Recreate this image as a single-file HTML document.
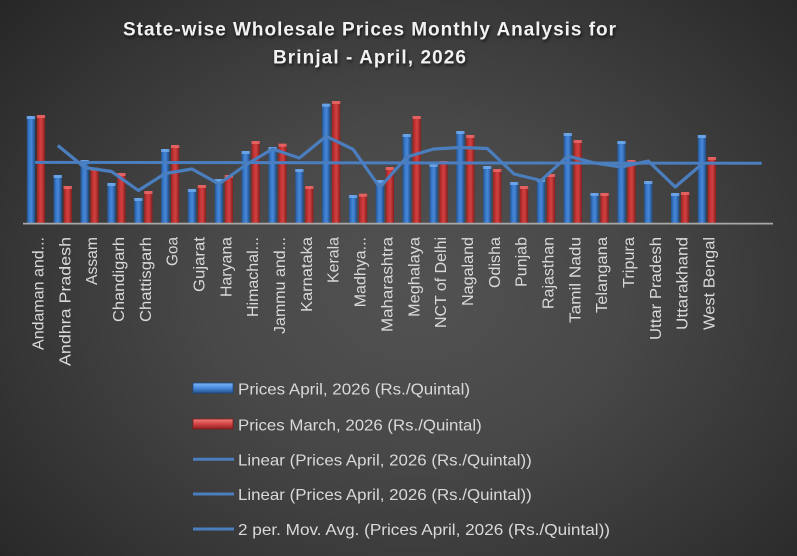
<!DOCTYPE html>
<html><head><meta charset="utf-8"><style>
html,body{margin:0;padding:0;}
body{width:797px;height:556px;overflow:hidden;}
#c{width:797px;height:556px;background:radial-gradient(ellipse 75% 85% at 52% 52%,#525252 0%,#484848 35%,#343434 70%,#222222 100%);}
svg{display:block;font-family:"Liberation Sans",sans-serif;}
.t{fill:#f2f2f2;font-weight:bold;font-size:19px;filter:drop-shadow(1px 2px 1.5px rgba(0,0,0,.65));}
.l{fill:#d9d9d9;font-size:16px;}
.g{fill:#d9d9d9;font-size:16px;}
</style></head><body><div id="c">
<svg width="797" height="556" viewBox="0 0 797 556" xmlns="http://www.w3.org/2000/svg">
<defs>
<linearGradient id="gb" x1="0" x2="1" y1="0" y2="0">
<stop offset="0" stop-color="#24548f"/><stop offset=".3" stop-color="#3a7acb"/><stop offset=".55" stop-color="#4687d9"/><stop offset="1" stop-color="#214c86"/>
</linearGradient>
<linearGradient id="gr" x1="0" x2="1" y1="0" y2="0">
<stop offset="0" stop-color="#962424"/><stop offset=".3" stop-color="#c53535"/><stop offset=".55" stop-color="#d24040"/><stop offset="1" stop-color="#861e1e"/>
</linearGradient>
<linearGradient id="lb" x1="0" x2="0" y1="0" y2="1">
<stop offset="0" stop-color="#7fb6f5"/><stop offset=".5" stop-color="#4a8ade"/><stop offset="1" stop-color="#23538f"/>
</linearGradient>
<linearGradient id="lr" x1="0" x2="0" y1="0" y2="1">
<stop offset="0" stop-color="#f08080"/><stop offset=".5" stop-color="#d44444"/><stop offset="1" stop-color="#8c2020"/>
</linearGradient>
</defs>

<!-- Title -->
<text class="t" x="123" y="35.5" textLength="493" lengthAdjust="spacing">State-wise Wholesale Prices Monthly Analysis for</text>
<text class="t" x="273" y="63.3" textLength="193" lengthAdjust="spacing">Brinjal - April, 2026</text>

<!-- Blue bars -->
<g fill="url(#gb)">
<rect x="26.8" y="116" width="8.3" height="107"/>
<rect x="53.6" y="175" width="8.3" height="48"/>
<rect x="80.5" y="160" width="8.3" height="63"/>
<rect x="107.3" y="183" width="8.3" height="40"/>
<rect x="134.2" y="198" width="8.3" height="25"/>
<rect x="161.0" y="149" width="8.3" height="74"/>
<rect x="187.8" y="189" width="8.3" height="34"/>
<rect x="214.7" y="179" width="8.3" height="44"/>
<rect x="241.5" y="151" width="8.3" height="72"/>
<rect x="268.4" y="147" width="8.3" height="76"/>
<rect x="295.2" y="169" width="8.3" height="54"/>
<rect x="322.0" y="103.7" width="8.3" height="119.3"/>
<rect x="348.9" y="195" width="8.3" height="28"/>
<rect x="375.7" y="180" width="8.3" height="43"/>
<rect x="402.6" y="134" width="8.3" height="89"/>
<rect x="429.4" y="164" width="8.3" height="59"/>
<rect x="456.2" y="131" width="8.3" height="92"/>
<rect x="483.1" y="166" width="8.3" height="57"/>
<rect x="509.9" y="182" width="8.3" height="41"/>
<rect x="536.8" y="179" width="8.3" height="44"/>
<rect x="563.6" y="133" width="8.3" height="90"/>
<rect x="590.4" y="193" width="8.3" height="30"/>
<rect x="617.3" y="141" width="8.3" height="82"/>
<rect x="644.1" y="181" width="8.3" height="42"/>
<rect x="671.0" y="193" width="8.3" height="30"/>
<rect x="697.8" y="135" width="8.3" height="88"/>
</g>
<g fill="#78b0f2" opacity=".75">
<rect x="26.8" y="116" width="8.3" height="3"/>
<rect x="53.6" y="175" width="8.3" height="3"/>
<rect x="80.5" y="160" width="8.3" height="3"/>
<rect x="107.3" y="183" width="8.3" height="3"/>
<rect x="134.2" y="198" width="8.3" height="3"/>
<rect x="161.0" y="149" width="8.3" height="3"/>
<rect x="187.8" y="189" width="8.3" height="3"/>
<rect x="214.7" y="179" width="8.3" height="3"/>
<rect x="241.5" y="151" width="8.3" height="3"/>
<rect x="268.4" y="147" width="8.3" height="3"/>
<rect x="295.2" y="169" width="8.3" height="3"/>
<rect x="322.0" y="103.7" width="8.3" height="3"/>
<rect x="348.9" y="195" width="8.3" height="3"/>
<rect x="375.7" y="180" width="8.3" height="3"/>
<rect x="402.6" y="134" width="8.3" height="3"/>
<rect x="429.4" y="164" width="8.3" height="3"/>
<rect x="456.2" y="131" width="8.3" height="3"/>
<rect x="483.1" y="166" width="8.3" height="3"/>
<rect x="509.9" y="182" width="8.3" height="3"/>
<rect x="536.8" y="179" width="8.3" height="3"/>
<rect x="563.6" y="133" width="8.3" height="3"/>
<rect x="590.4" y="193" width="8.3" height="3"/>
<rect x="617.3" y="141" width="8.3" height="3"/>
<rect x="644.1" y="181" width="8.3" height="3"/>
<rect x="671.0" y="193" width="8.3" height="3"/>
<rect x="697.8" y="135" width="8.3" height="3"/>
</g>

<!-- Red bars -->
<g fill="url(#gr)">
<rect x="36.8" y="115" width="8.3" height="108"/>
<rect x="63.6" y="186" width="8.3" height="37"/>
<rect x="90.5" y="167.7" width="8.3" height="55.3"/>
<rect x="117.3" y="173" width="8.3" height="50"/>
<rect x="144.2" y="191" width="8.3" height="32"/>
<rect x="171.0" y="145" width="8.3" height="78"/>
<rect x="197.8" y="185" width="8.3" height="38"/>
<rect x="224.7" y="175" width="8.3" height="48"/>
<rect x="251.5" y="141" width="8.3" height="82"/>
<rect x="278.4" y="143.7" width="8.3" height="79.3"/>
<rect x="305.2" y="186" width="8.3" height="37"/>
<rect x="332.0" y="101" width="8.3" height="122"/>
<rect x="358.9" y="193.7" width="8.3" height="29.3"/>
<rect x="385.7" y="167" width="8.3" height="56"/>
<rect x="412.6" y="116" width="8.3" height="107"/>
<rect x="439.4" y="161" width="8.3" height="62"/>
<rect x="466.2" y="135" width="8.3" height="88"/>
<rect x="493.1" y="169" width="8.3" height="54"/>
<rect x="519.9" y="186" width="8.3" height="37"/>
<rect x="546.8" y="174" width="8.3" height="49"/>
<rect x="573.6" y="140" width="8.3" height="83"/>
<rect x="600.4" y="193" width="8.3" height="30"/>
<rect x="627.3" y="160" width="8.3" height="63"/>
<rect x="681.0" y="192" width="8.3" height="31"/>
<rect x="707.8" y="157" width="8.3" height="66"/>
</g>
<g fill="#ee7070" opacity=".75">
<rect x="36.8" y="115" width="8.3" height="3"/>
<rect x="63.6" y="186" width="8.3" height="3"/>
<rect x="90.5" y="167.7" width="8.3" height="3"/>
<rect x="117.3" y="173" width="8.3" height="3"/>
<rect x="144.2" y="191" width="8.3" height="3"/>
<rect x="171.0" y="145" width="8.3" height="3"/>
<rect x="197.8" y="185" width="8.3" height="3"/>
<rect x="224.7" y="175" width="8.3" height="3"/>
<rect x="251.5" y="141" width="8.3" height="3"/>
<rect x="278.4" y="143.7" width="8.3" height="3"/>
<rect x="305.2" y="186" width="8.3" height="3"/>
<rect x="332.0" y="101" width="8.3" height="3"/>
<rect x="358.9" y="193.7" width="8.3" height="3"/>
<rect x="385.7" y="167" width="8.3" height="3"/>
<rect x="412.6" y="116" width="8.3" height="3"/>
<rect x="439.4" y="161" width="8.3" height="3"/>
<rect x="466.2" y="135" width="8.3" height="3"/>
<rect x="493.1" y="169" width="8.3" height="3"/>
<rect x="519.9" y="186" width="8.3" height="3"/>
<rect x="546.8" y="174" width="8.3" height="3"/>
<rect x="573.6" y="140" width="8.3" height="3"/>
<rect x="600.4" y="193" width="8.3" height="3"/>
<rect x="627.3" y="160" width="8.3" height="3"/>
<rect x="681.0" y="192" width="8.3" height="3"/>
<rect x="707.8" y="157" width="8.3" height="3"/>
</g>

<!-- Axis -->
<line x1="23" y1="223.6" x2="773" y2="223.6" stroke="#a8a8a8" stroke-width="1.8"/>

<!-- Linear trend lines -->
<line x1="35" y1="162.4" x2="761.7" y2="163.3" stroke="#4a7ebe" stroke-width="3"/>

<!-- 2 per. moving average -->
<polyline fill="none" stroke="#4a7ebe" stroke-width="3.2" stroke-linejoin="round" points="57.8,145.5 84.7,167.5 111.5,171.5 138.4,190.5 165.2,173.5 192.0,169 218.9,184 245.7,165 272.6,149 299.4,158 326.2,136.3 353.1,149.3 379.9,187.5 406.8,157 433.6,149 460.4,147.5 487.3,148.5 514.1,174 541.0,180.5 567.8,156 594.6,163 621.5,167 648.3,161 675.2,187 702.0,164"/>

<!-- Category labels -->
<g class="g">
<text transform="translate(43.5,237) rotate(-90)" text-anchor="end">Andaman and...</text>
<text transform="translate(70.3,366) rotate(-90)" textLength="129" lengthAdjust="spacingAndGlyphs">Andhra Pradesh</text>
<text transform="translate(97.2,285) rotate(-90)" textLength="48" lengthAdjust="spacingAndGlyphs">Assam</text>
<text transform="translate(124.0,322) rotate(-90)" textLength="85" lengthAdjust="spacingAndGlyphs">Chandigarh</text>
<text transform="translate(150.9,322) rotate(-90)" textLength="85" lengthAdjust="spacingAndGlyphs">Chattisgarh</text>
<text transform="translate(177.7,266) rotate(-90)" textLength="29" lengthAdjust="spacingAndGlyphs">Goa</text>
<text transform="translate(204.5,292) rotate(-90)" textLength="55" lengthAdjust="spacingAndGlyphs">Gujarat</text>
<text transform="translate(231.4,297) rotate(-90)" textLength="60" lengthAdjust="spacingAndGlyphs">Haryana</text>
<text transform="translate(258.2,237) rotate(-90)" text-anchor="end">Himachal...</text>
<text transform="translate(285.1,237) rotate(-90)" text-anchor="end">Jammu and...</text>
<text transform="translate(311.9,312) rotate(-90)" textLength="75" lengthAdjust="spacingAndGlyphs">Karnataka</text>
<text transform="translate(338.7,283) rotate(-90)" textLength="46" lengthAdjust="spacingAndGlyphs">Kerala</text>
<text transform="translate(365.6,237) rotate(-90)" text-anchor="end">Madhya...</text>
<text transform="translate(392.4,332) rotate(-90)" textLength="95" lengthAdjust="spacingAndGlyphs">Maharashtra</text>
<text transform="translate(419.3,317) rotate(-90)" textLength="80" lengthAdjust="spacingAndGlyphs">Meghalaya</text>
<text transform="translate(446.1,328) rotate(-90)" textLength="91" lengthAdjust="spacingAndGlyphs">NCT of Delhi</text>
<text transform="translate(472.9,306) rotate(-90)" textLength="69" lengthAdjust="spacingAndGlyphs">Nagaland</text>
<text transform="translate(499.8,288) rotate(-90)" textLength="51" lengthAdjust="spacingAndGlyphs">Odisha</text>
<text transform="translate(526.6,287) rotate(-90)" textLength="50" lengthAdjust="spacingAndGlyphs">Punjab</text>
<text transform="translate(553.5,309) rotate(-90)" textLength="72" lengthAdjust="spacingAndGlyphs">Rajasthan</text>
<text transform="translate(580.3,323) rotate(-90)" textLength="86" lengthAdjust="spacingAndGlyphs">Tamil Nadu</text>
<text transform="translate(607.1,313) rotate(-90)" textLength="76" lengthAdjust="spacingAndGlyphs">Telangana</text>
<text transform="translate(634.0,288) rotate(-90)" textLength="51" lengthAdjust="spacingAndGlyphs">Tripura</text>
<text transform="translate(660.8,340) rotate(-90)" textLength="103" lengthAdjust="spacingAndGlyphs">Uttar Pradesh</text>
<text transform="translate(687.7,330) rotate(-90)" textLength="93" lengthAdjust="spacingAndGlyphs">Uttarakhand</text>
<text transform="translate(714.5,330) rotate(-90)" textLength="93" lengthAdjust="spacingAndGlyphs">West Bengal</text>
</g>

<!-- Legend -->
<rect x="193" y="383" width="40" height="10" fill="url(#lb)" stroke="#1d4a85" stroke-width=".8"/>
<rect x="193" y="419" width="40" height="10" fill="url(#lr)" stroke="#7e1c1c" stroke-width=".8"/>
<line x1="193" y1="459.3" x2="234" y2="459.3" stroke="#4a7ebe" stroke-width="3"/>
<line x1="193" y1="494" x2="234" y2="494" stroke="#4a7ebe" stroke-width="3"/>
<line x1="193" y1="529" x2="234" y2="529" stroke="#4a7ebe" stroke-width="3"/>
<g class="l">
<text x="238" y="394.3" textLength="232" lengthAdjust="spacingAndGlyphs">Prices April, 2026 (Rs./Quintal)</text>
<text x="238" y="430.3" textLength="243.7" lengthAdjust="spacingAndGlyphs">Prices March, 2026 (Rs./Quintal)</text>
<text x="238" y="465.3" textLength="293.7" lengthAdjust="spacingAndGlyphs">Linear (Prices April, 2026 (Rs./Quintal))</text>
<text x="238" y="500" textLength="293.7" lengthAdjust="spacingAndGlyphs">Linear (Prices April, 2026 (Rs./Quintal))</text>
<text x="238" y="535" textLength="372" lengthAdjust="spacingAndGlyphs">2 per. Mov. Avg. (Prices April, 2026 (Rs./Quintal))</text>
</g>
</svg>
</div></body></html>
